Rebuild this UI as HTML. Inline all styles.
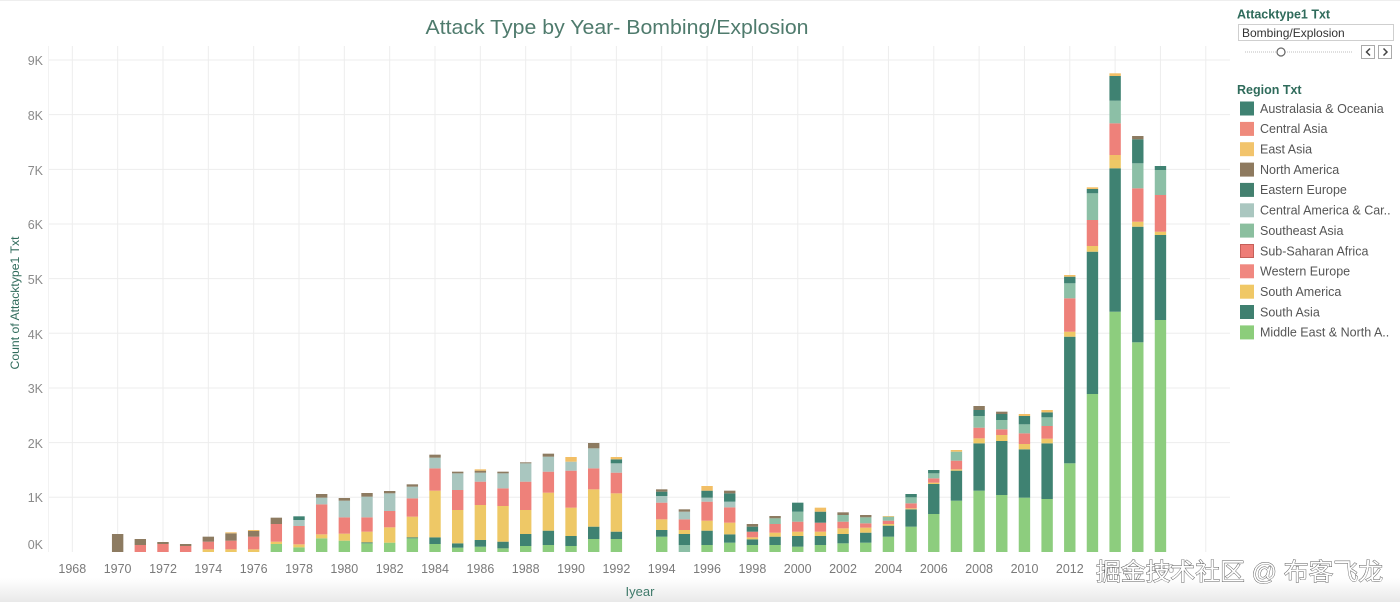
<!DOCTYPE html>
<html><head><meta charset="utf-8">
<style>
html,body{margin:0;padding:0;background:#fff;}
body{width:1400px;height:602px;overflow:hidden;}
svg{display:block;font-family:"Liberation Sans","Noto Sans CJK SC",sans-serif;}
</style></head>
<body>
<svg id="s" width="1400" height="602" viewBox="0 0 1400 602" xmlns="http://www.w3.org/2000/svg">
<defs>
<linearGradient id="bg" x1="0" y1="0" x2="0" y2="1">
<stop offset="0" stop-color="#ffffff"/><stop offset="1" stop-color="#e9e9e9"/>
</linearGradient>
</defs>
<rect x="0" y="0" width="1400" height="602" fill="#fff"/>
<line x1="0" y1="0.5" x2="1400" y2="0.5" stroke="#eeeeee"/>
<rect x="0" y="578" width="1400" height="24" fill="url(#bg)"/>

<!-- title -->
<text x="617" y="34" text-anchor="middle" font-size="20.5" fill="#4f7b6d" textLength="383" lengthAdjust="spacingAndGlyphs">Attack Type by Year- Bombing/Explosion</text>

<!-- grid -->
<g id="grid" stroke="#ededed" stroke-width="1"></g>
<line x1="48.5" y1="46" x2="48.5" y2="552" stroke="#f2f2f2"/>

<!-- y labels -->
<g font-size="12.5" fill="#8a8a8a" text-anchor="end">
<text x="43" y="65">9K</text>
<text x="43" y="120">8K</text>
<text x="43" y="175">7K</text>
<text x="43" y="229">6K</text>
<text x="43" y="284">5K</text>
<text x="43" y="339">4K</text>
<text x="43" y="393">3K</text>
<text x="43" y="448">2K</text>
<text x="43" y="502">1K</text>
<text x="43" y="549">0K</text>
</g>
<text transform="translate(19,303) rotate(-90)" text-anchor="middle" font-size="12" fill="#2f6b5b" textLength="133" lengthAdjust="spacingAndGlyphs">Count of Attacktype1 Txt</text>

<!-- x labels -->
<g font-size="12.5" fill="#7a7a7a" text-anchor="middle">
<text x="72.3" y="573">1968</text>
<text x="117.6" y="573">1970</text>
<text x="163" y="573">1972</text>
<text x="208.3" y="573">1974</text>
<text x="253.7" y="573">1976</text>
<text x="299" y="573">1978</text>
<text x="344.3" y="573">1980</text>
<text x="389.7" y="573">1982</text>
<text x="435" y="573">1984</text>
<text x="480.4" y="573">1986</text>
<text x="525.7" y="573">1988</text>
<text x="571" y="573">1990</text>
<text x="616.4" y="573">1992</text>
<text x="661.7" y="573">1994</text>
<text x="707" y="573">1996</text>
<text x="752.4" y="573">1998</text>
<text x="797.7" y="573">2000</text>
<text x="843" y="573">2002</text>
<text x="888.4" y="573">2004</text>
<text x="933.8" y="573">2006</text>
<text x="979.1" y="573">2008</text>
<text x="1024.5" y="573">2010</text>
<text x="1069.8" y="573">2012</text>
<text x="1115.1" y="573" fill="#bbbbbb">2014</text>
<text x="1160.5" y="573" fill="#bbbbbb">2016</text>
</g>
<text x="640" y="596" text-anchor="middle" font-size="13" fill="#3f7a6a">Iyear</text>

<g id="bars"></g>

<!-- right panel -->
<text x="1237" y="18.5" font-size="12.5" font-weight="bold" fill="#2f6b5b">Attacktype1 Txt</text>
<rect x="1238.5" y="24.5" width="155" height="16" fill="#fff" stroke="#cfcfcf"/>
<text x="1242" y="37" font-size="12" fill="#333">Bombing/Explosion</text>
<line x1="1245" y1="52" x2="1352" y2="52" stroke="#bdbdbd" stroke-dasharray="1,1"/>
<circle cx="1281" cy="52" r="4" fill="#fff" stroke="#666" stroke-width="1.2"/>
<rect x="1361.5" y="45.5" width="13" height="13" fill="#fff" stroke="#aaa"/>
<rect x="1378.5" y="45.5" width="13" height="13" fill="#fff" stroke="#aaa"/>
<polyline points="1370,48.5 1366.5,52 1370,55.5" fill="none" stroke="#444" stroke-width="1.5"/>
<polyline points="1383.5,48.5 1387,52 1383.5,55.5" fill="none" stroke="#444" stroke-width="1.5"/>

<text x="1237" y="94" font-size="12.5" font-weight="bold" fill="#2f6b5b">Region Txt</text>
<g font-size="12.5" fill="#555">
<rect x="1240" y="101.5" width="14" height="14" fill="#3f8272"/><text x="1260" y="112.8">Australasia &amp; Oceania</text>
<rect x="1240" y="121.9" width="14" height="14" fill="#ef8a7c"/><text x="1260" y="133.2">Central Asia</text>
<rect x="1240" y="142.2" width="14" height="14" fill="#f2c46c"/><text x="1260" y="153.5">East Asia</text>
<rect x="1240" y="162.6" width="14" height="14" fill="#8e7a5f"/><text x="1260" y="173.9">North America</text>
<rect x="1240" y="182.9" width="14" height="14" fill="#43806f"/><text x="1260" y="194.2">Eastern Europe</text>
<rect x="1240" y="203.3" width="14" height="14" fill="#aac7c0"/><text x="1260" y="214.6">Central America &amp; Car..</text>
<rect x="1240" y="223.6" width="14" height="14" fill="#8bbf9f"/><text x="1260" y="234.9">Southeast Asia</text>
<rect x="1240.5" y="244.5" width="13" height="13" fill="#ee7c76" stroke="#c5605a"/><text x="1260" y="255.3">Sub-Saharan Africa</text>
<rect x="1240" y="264.3" width="14" height="14" fill="#f08880"/><text x="1260" y="275.6">Western Europe</text>
<rect x="1240" y="284.7" width="14" height="14" fill="#f0c866"/><text x="1260" y="296">South America</text>
<rect x="1240" y="305" width="14" height="14" fill="#3f8070"/><text x="1260" y="316.3">South Asia</text>
<rect x="1240" y="325.4" width="14" height="14" fill="#8ccd7b"/><text x="1260" y="336.7">Middle East &amp; North A..</text>
</g>

<!-- watermark -->
<text x="1096" y="580" font-size="24" fill="#ffffff" stroke="#5a5a5a" stroke-width="0.9" paint-order="stroke" textLength="287" lengthAdjust="spacingAndGlyphs" font-family="'Liberation Sans','Noto Sans CJK SC',sans-serif">掘金技术社区 @ 布客飞龙</text>
</svg>
<script>
(function(){
var NS="http://www.w3.org/2000/svg";
var grid=document.getElementById('grid');
function ln(x1,y1,x2,y2){var l=document.createElementNS(NS,'line');l.setAttribute('x1',x1);l.setAttribute('y1',y1);l.setAttribute('x2',x2);l.setAttribute('y2',y2);grid.appendChild(l);}
for(var k=0;k<9;k++){var y=60+k*54.66;ln(48,y,1230,y);}
var X=function(yr){return 72.3+(yr-1968)*22.67;};
for(var yr=1968;yr<=2018;yr+=2){var x=X(yr);ln(x,46,x,552);}
var C={g:'#8dcd7e',t:'#3f8272',y:'#eec866',s:'#ee817a',l:'#a9c6bf',m:'#8cbfa6',b:'#8d7b61',o:'#f2bf66'};
var D=[
[1970,420,3,[['b',342]]],
[1971,420,3,[['s',375],['b',357]]],
[1972,420,3,[['s',372],['b',366]]],
[1973,420,3,[['s',378],['b',372]]],
[1974,420,3,[['y',388],['s',365],['b',350]]],
[1975,420,3,[['y',388],['s',362],['b',340],['o',337]]],
[1976,420,3,[['y',388],['s',350],['b',333],['o',330]]],
[1977,420,3,[['g',372],['y',365],['s',312],['b',293]]],
[1978,420,3,[['g',382],['y',373],['s',318],['l',300],['t',289]]],
[1979,420,3,[['g',355],['y',343],['s',253],['l',233],['b',222]]],
[1980,420,3,[['g',362],['y',341],['s',292],['l',242],['b',234]]],
[1981,420,3,[['g',370],['t',367],['y',335],['s',292],['l',230],['b',219]]],
[1982,420,3,[['g',368],['y',322],['s',273],['l',220],['b',213]]],
[1983,420,3,[['g',355],['t',352],['y',290],['s',235],['l',200],['b',193]]],
[1984,420,3,[['g',372],['t',352],['y',212],['s',145],['l',113],['b',104]]],
[1985,420,3,[['g',383],['t',370],['y',270],['s',210],['l',160],['b',155]]],
[1986,420,3,[['g',380],['t',360],['y',255],['s',185],['l',158],['b',152],['o',148]]],
[1987,420,3,[['g',385],['t',365],['y',258],['s',205],['l',160],['b',155]]],
[1988,420,3,[['g',378],['t',342],['y',270],['s',185],['l',130],['b',127]]],
[1989,420,3,[['g',375],['t',332],['y',218],['s',155],['l',110],['b',101]]],
[1990,420,3,[['g',378],['t',348],['y',263],['s',152],['l',125],['o',111]]],
[1991,420,3,[['g',357],['t',320],['y',208],['s',145],['l',85],['b',69]]],
[1992,420,3,[['g',357],['t',335],['y',220],['s',158],['l',130],['t',118],['o',111]]],
[1994,420,3,[['g',350],['t',330],['y',298],['s',248],['l',228],['t',215],['b',208]]],
[1995,420,3,[['m',375],['t',342],['y',330],['s',298],['l',275],['b',268]]],
[1996,420,3,[['g',375],['t',332],['y',302],['s',245],['l',233],['t',212],['o',198]]],
[1997,420,3,[['g',368],['t',343],['y',308],['s',262],['l',245],['t',220],['b',212]]],
[1998,420,3,[['g',375],['t',358],['y',352],['s',335],['t',320],['b',312]]],
[1999,380,3,[['g',495],['t',470],['y',458],['s',432],['m',415],['b',408]]],
[2000,380,3,[['g',500],['t',468],['y',455],['s',425],['m',395],['t',368]]],
[2001,380,3,[['g',495],['t',468],['y',455],['s',428],['t',395],['o',383]]],
[2002,380,3,[['g',490],['t',462],['y',445],['s',425],['m',405],['b',397]]],
[2003,380,3,[['g',488],['t',458],['y',443],['s',430],['m',412],['b',405]]],
[2004,380,3,[['g',470],['t',437],['y',432],['s',422],['m',410],['o',408]]],
[2005,380,3,[['g',440],['t',388],['y',385],['s',370],['m',352],['t',342]]],
[2006,380,3,[['g',402],['t',312],['y',308],['s',295],['m',280],['t',270]]],
[2007,380,3,[['g',362],['t',272],['y',268],['s',242],['m',215],['o',210]]],
[2008,380,3,[['g',332],['t',190],['y',175],['s',143],['m',108],['t',90],['b',78]]],
[2009,380,3,[['g',345],['t',183],['y',165],['s',148],['m',120],['t',102],['b',95]]],
[2010,380,3,[['g',353],['t',208],['y',192],['s',160],['m',133],['t',108],['o',102]]],
[2011,380,3,[['g',357],['t',190],['y',176],['s',138],['m',112],['t',97],['o',90]]],
[2012,0,1,[['g',463.3],['t',336.7],['y',331.7],['s',298.3],['m',283.3],['t',276.7],['o',275]]],
[2013,0,1,[['g',394],['t',251.7],['y',246],['s',220],['m',193.3],['t',189],['o',187.3]]],
[2014,0,1,[['g',311.7],['t',168.3],['y',160],['o',155],['s',123.3],['m',100.7],['t',76],['o',73.3]]],
[2015,0,1,[['g',342.3],['t',226.7],['y',221.7],['s',188.3],['m',163.3],['t',139.3],['b',136]]],
[2016,0,1,[['g',320],['t',235],['y',231.7],['s',195],['m',170],['t',166]]]
];
var g=document.getElementById('bars');
var W=11.4;
D.forEach(function(d){
  var cx=X(d[0]);var prev=552;
  d[3].forEach(function(s){
    var ty=d[1]+s[1]/d[2];
    var r=document.createElementNS(NS,'rect');
    r.setAttribute('x',(cx-W/2).toFixed(2));
    r.setAttribute('y',ty.toFixed(2));
    r.setAttribute('width',W);
    r.setAttribute('height',Math.max(0,prev-ty).toFixed(2));
    r.setAttribute('fill',C[s[0]]);
    g.appendChild(r);
    prev=ty;
  });
});
})();
</script>
</body></html>
